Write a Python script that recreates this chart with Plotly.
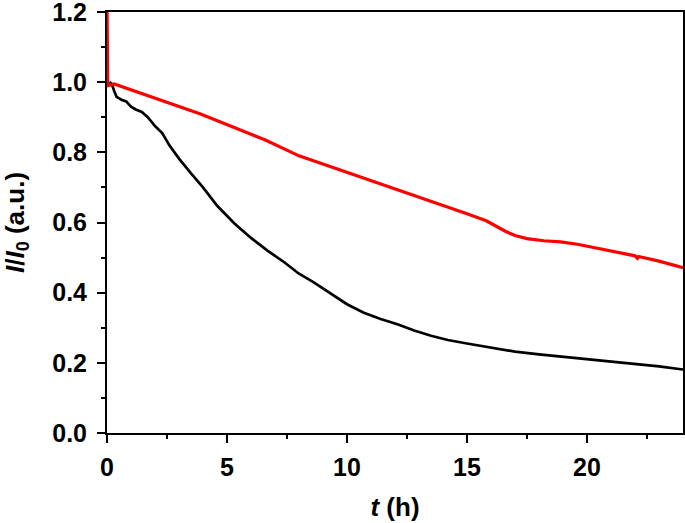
import plotly.graph_objects as go

# Black curve
t_black = [0.1, 0.2, 0.3, 0.4, 0.6, 0.8, 1.0, 1.2, 1.45, 1.7, 2.0, 2.3, 2.6, 3.0, 3.5, 4.0,
           4.6, 5.3, 6.0, 6.7, 7.4, 8.0, 8.6, 9.3, 10.0, 10.7, 11.4, 12.1, 12.8, 13.5, 14.2,
           15.0, 16.0, 17.0, 18.0, 19.0, 20.0, 21.0, 22.0, 23.0, 24.0]
v_black = [1.0, 0.995, 0.975, 0.958, 0.95, 0.945, 0.93, 0.922, 0.915, 0.9, 0.875, 0.855,
           0.82, 0.782, 0.74, 0.7, 0.647, 0.598, 0.556, 0.519, 0.486, 0.454, 0.43, 0.398,
           0.367, 0.343, 0.325, 0.31, 0.292, 0.277, 0.265, 0.255, 0.243, 0.232, 0.224,
           0.217, 0.211, 0.205, 0.198, 0.19, 0.181]

# Red curve
t_red = [0.0, 0.03, 0.3, 1.1, 2.5, 3.9, 5.3, 6.6, 8.0, 9.5, 11.4, 13.5, 15.0, 15.8, 16.2,
         16.6, 17.0, 17.5, 18.2, 18.9, 19.6, 20.3, 21.2, 22.0, 22.1, 22.15, 23.0, 24.0]
v_red = [1.22, 0.99, 0.995, 0.976, 0.943, 0.909, 0.871, 0.835, 0.79, 0.755, 0.709, 0.66,
         0.625, 0.605, 0.59, 0.575, 0.563, 0.554, 0.548, 0.545, 0.538, 0.528, 0.517,
         0.505, 0.498, 0.503, 0.49, 0.471]

x_ticks = [0, 5, 10, 15, 20]
y_ticks = [0.0, 0.2, 0.4, 0.6, 0.8, 1.0, 1.2]
y_labels = ["0.0", "0.2", "0.4", "0.6", "0.8", "1.0", "1.2"]

FONT = "Liberation Sans, Arial, sans-serif"

fig = go.Figure()
fig.add_trace(go.Scatter(x=t_black, y=v_black, mode="lines",
                         line=dict(color="black", width=2.7), showlegend=False))
fig.add_trace(go.Scatter(x=t_red, y=v_red, mode="lines",
                         line=dict(color="#ff0000", width=3.2), showlegend=False))

tickfont = dict(family=FONT, size=25, color="black", weight="bold")
titlefont = dict(family=FONT, size=26, color="black", weight="bold")

fig.update_layout(
    width=685, height=523,
    margin=dict(l=107, r=2, t=12, b=90),
    paper_bgcolor="white", plot_bgcolor="white",
    font=dict(family=FONT, color="black"),
    xaxis=dict(
        range=[0, 24], tickvals=x_ticks, ticks="outside", ticklen=8, tickwidth=2,
        tickcolor="black", showline=True, linecolor="black", linewidth=2, mirror=True,
        showgrid=False, zeroline=False, tickfont=tickfont, automargin=False,
        ticklabeloverflow="allow", ticklabelstandoff=3,
        minor=dict(tickvals=[2.5, 7.5, 12.5, 17.5, 22.5], ticks="outside", ticklen=4,
                   tickwidth=2, tickcolor="black"),
        title=dict(text="<i>t</i> (h)", standoff=18, font=titlefont),
    ),
    yaxis=dict(
        range=[0, 1.2], tickvals=y_ticks, ticktext=y_labels, ticks="outside", ticklen=8,
        tickwidth=2, tickcolor="black", showline=True, linecolor="black", linewidth=2,
        mirror=True, showgrid=False, zeroline=False, tickfont=tickfont, automargin=False,
        ticklabeloverflow="allow", ticklabelstandoff=5,
        minor=dict(tickvals=[0.1, 0.3, 0.5, 0.7, 0.9, 1.1], ticks="outside", ticklen=4,
                   tickwidth=2, tickcolor="black"),
        title=dict(text="<i>I</i>/<i>I</i><sub>0</sub> (a.u.)", standoff=22, font=titlefont),
    ),
)

fig.write_html("out.html", config={"displayModeBar": False},
               post_script="document.body.style.margin='0';")
